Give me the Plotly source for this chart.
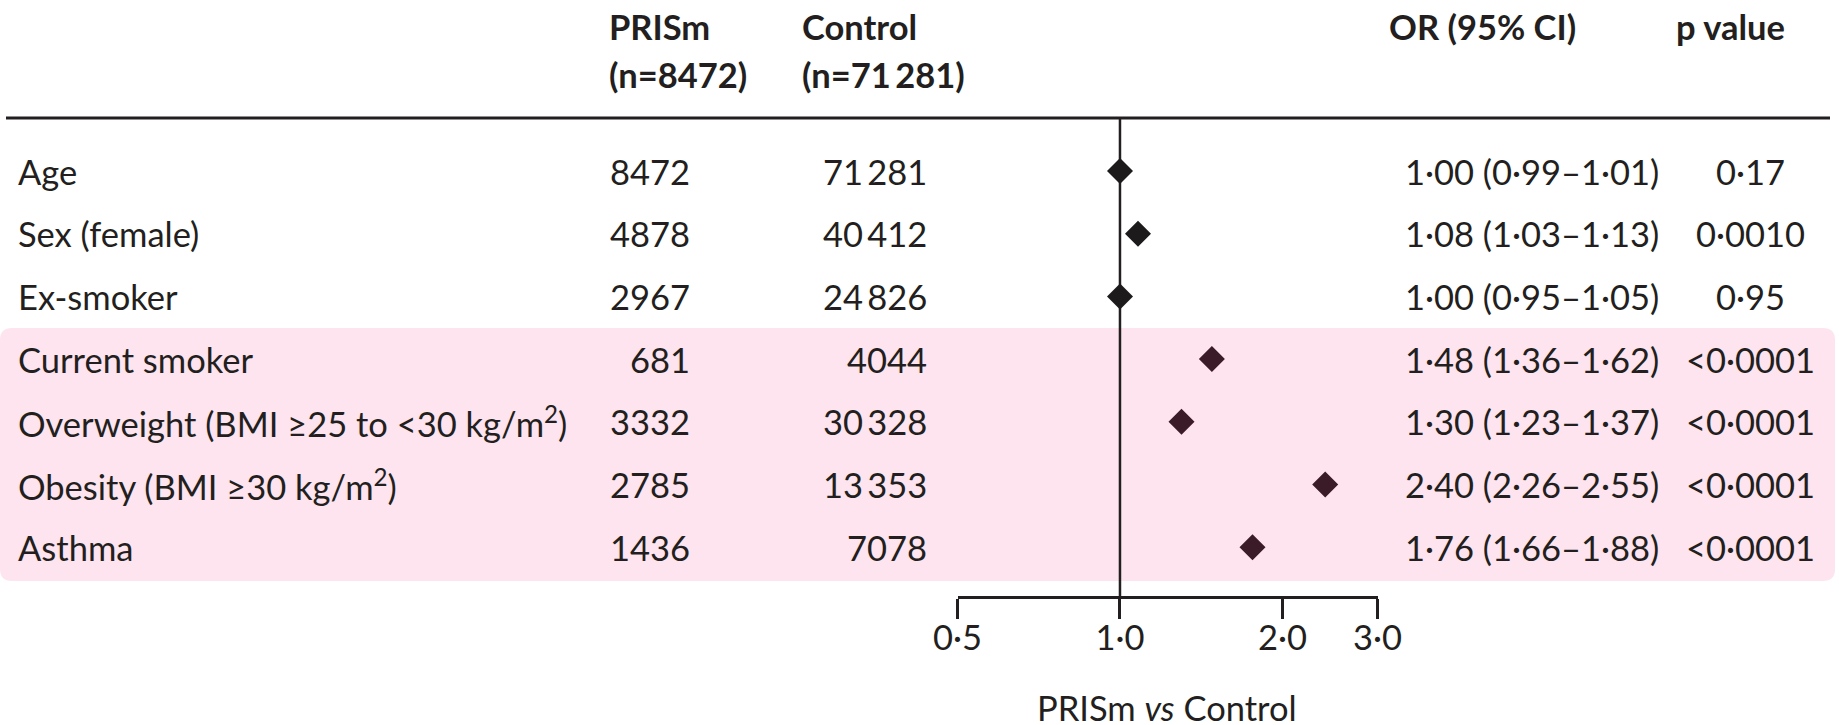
import plotly.graph_objects as go

# ---------------- data ----------------
labels = ["Age", "Sex (female)", "Ex-smoker", "Current smoker",
          "Overweight (BMI ≥25 to <30 kg/m<sup>2</sup>)",
          "Obesity (BMI ≥30 kg/m<sup>2</sup>)", "Asthma"]
prism_n = [8472, 4878, 2967, 681, 3332, 2785, 1436]
control_n = [71281, 40412, 24826, 4044, 30328, 13353, 7078]
odds_ratio = [1.00, 1.08, 1.00, 1.48, 1.30, 2.40, 1.76]
ci_low = [0.99, 1.03, 0.95, 1.36, 1.23, 2.26, 1.66]
ci_high = [1.01, 1.13, 1.05, 1.62, 1.37, 2.55, 1.88]
p_values = ["0·17", "0·0010", "0·95", "<0·0001", "<0·0001", "<0·0001", "<0·0001"]
highlighted = [False, False, False, True, True, True, True]
tick_values = [0.5, 1.0, 2.0, 3.0]
tick_labels = ["0·5", "1·0", "2·0", "3·0"]
header_prism = ["PRISm", "(n=8472)"]
header_control = ["Control", "(n=71\u2009281)"]
header_or = "OR (95% CI)"
header_p = "p value"
axis_title = "PRISm <i>vs</i> Control"

# ---------------- layout constants ----------------
W, H = 1839, 725
FONT = "Lato, 'Open Sans', sans-serif"
FS = 34.5
TXT = "#231f20"
PINK = "#fde4ee"
ROW0_PX, ROW_STEP = 171, 62.7
AXIS_PX = 597


def px_x(px):
    return px / W


def px_y(px):
    return 1 - px / H


def fmt_int(v):
    s = f"{v:d}"
    if len(s) > 4:
        s = s[:-3] + "\u2009" + s[-3:]
    return s


def fmt_num(v):
    return f"{v:.2f}".replace(".", "·")


rows = list(range(len(labels)))
y_top = -ROW0_PX / ROW_STEP
y_bot = (H - ROW0_PX) / ROW_STEP

fig = go.Figure()

# diamonds
fig.add_trace(go.Scatter(
    x=odds_ratio, y=rows, mode="markers",
    marker=dict(symbol="diamond", size=20,
                color=["#3a1b27" if h else "#1c1a1b" for h in highlighted],
                line=dict(width=0)),
    hoverinfo="skip", showlegend=False, cliponaxis=False,
))

annotations = []


def add_text(text, x, y, xanchor, yref="y", bold=False, size=FS):
    annotations.append(dict(
        text=f"<b>{text}</b>" if bold else text,
        x=x, y=y, xref="paper", yref=yref,
        xanchor=xanchor, yanchor="middle", showarrow=False,
        font=dict(family=FONT, size=size, color=TXT),
    ))


for i in rows:
    add_text(labels[i], px_x(16), i, "left")
    add_text(fmt_int(prism_n[i]), px_x(692), i, "right")
    add_text(fmt_int(control_n[i]), px_x(929), i, "right")
    or_txt = f"{fmt_num(odds_ratio[i])} ({fmt_num(ci_low[i])}–{fmt_num(ci_high[i])})"
    add_text(or_txt, px_x(1403), i, "left")
    add_text(p_values[i], px_x(1750), i, "center")

# headers
add_text(header_prism[0], px_x(607), px_y(27), "left", yref="paper", bold=True)
add_text(header_prism[1], px_x(607), px_y(75), "left", yref="paper", bold=True)
add_text(header_control[0], px_x(800), px_y(27), "left", yref="paper", bold=True)
add_text(header_control[1], px_x(800), px_y(75), "left", yref="paper", bold=True)
add_text(header_or, px_x(1387), px_y(27), "left", yref="paper", bold=True)
add_text(header_p, px_x(1674), px_y(27), "left", yref="paper", bold=True)

# axis title
add_text(axis_title, px_x(1167), px_y(707), "center", yref="paper")

shapes = [
    # pink highlight band (rounded rect)
    dict(type="path", xref="paper", yref="paper", layer="below",
         fillcolor=PINK, line=dict(width=0),
         path=(lambda x0, x1, y0, y1, rx, ry:
               f"M{x0+rx},{y0} L{x1-rx},{y0} Q{x1},{y0} {x1},{y0-ry} "
               f"L{x1},{y1+ry} Q{x1},{y1} {x1-rx},{y1} L{x0+rx},{y1} "
               f"Q{x0},{y1} {x0},{y1+ry} L{x0},{y0-ry} Q{x0},{y0} {x0+rx},{y0} Z")(
             px_x(0), px_x(1835), px_y(328), px_y(581), 12 / W, 12 / H)),
    # header rule
    dict(type="line", xref="paper", yref="paper",
         x0=px_x(6), x1=px_x(1830), y0=px_y(118), y1=px_y(118),
         line=dict(color=TXT, width=3)),
    # line of no effect
    dict(type="line", xref="x", yref="paper",
         x0=1.0, x1=1.0, y0=px_y(118), y1=px_y(AXIS_PX),
         line=dict(color=TXT, width=2.5), layer="below"),
]

fig.update_layout(
    template="none",
    width=W, height=H,
    margin=dict(l=0, r=0, t=0, b=0, pad=0, autoexpand=False),
    paper_bgcolor="white", plot_bgcolor="rgba(0,0,0,0)",
    showlegend=False,
    annotations=annotations, shapes=shapes,
    xaxis=dict(
        type="log", range=[-0.30103, 0.47712],
        domain=[957.5 / W, 1377.5 / W],
        anchor="free", position=px_y(AXIS_PX),
        tickvals=tick_values, ticktext=tick_labels,
        ticks="outside", ticklen=20, tickwidth=2.5, tickcolor=TXT,
        ticklabelstandoff=-10,
        showline=True, linecolor=TXT, linewidth=2.5,
        showgrid=False, zeroline=False, automargin=False,
        tickfont=dict(family=FONT, size=FS, color=TXT),
        fixedrange=True,
    ),
    yaxis=dict(
        range=[y_bot, y_top], domain=[0, 1], visible=False,
        showgrid=False, zeroline=False, fixedrange=True, automargin=False,
    ),
)

fig.write_html("out.html")
